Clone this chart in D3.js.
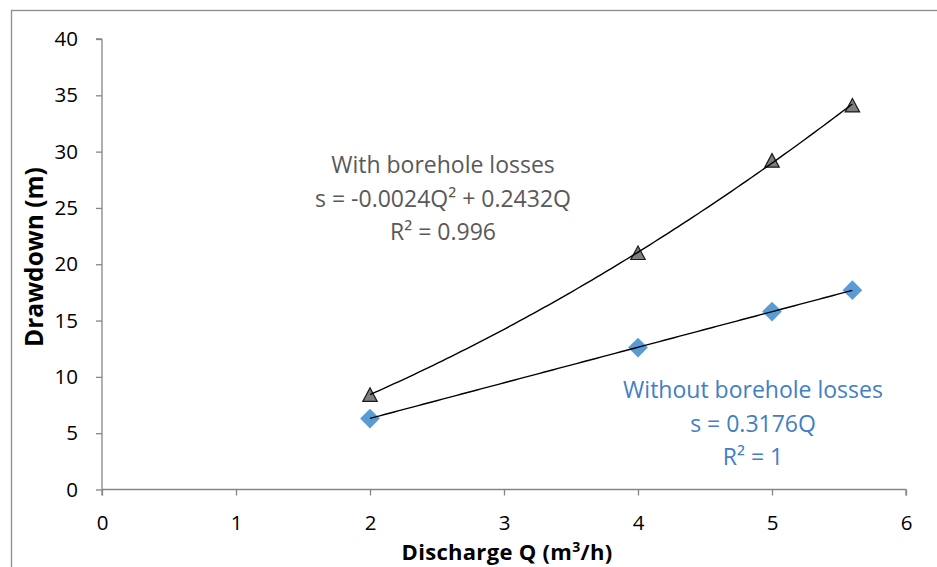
<!DOCTYPE html>
<html>
<head>
<meta charset="utf-8">
<script src="https://cdn.jsdelivr.net/npm/d3@7/dist/d3.min.js"></script>
<style>
  html, body { margin: 0; padding: 0; background: #fff; }
  svg { display: block; font-family: "Open Sans", "Noto Sans", sans-serif; }
</style>
</head>
<body>
<svg id="chart" width="937" height="567"></svg>
<script>
// Pumping test: discharge vs drawdown
const discharge = [2, 4, 5, 5.6];
const withLosses = [8.4, 21.0, 29.2, 34.1];
const withoutLosses = [6.3, 12.6, 15.8, 17.7];
const xTicks = [0, 1, 2, 3, 4, 5, 6];
const yTicks = [0, 5, 10, 15, 20, 25, 30, 35, 40];
const withLabel = ["With borehole losses", "s = -0.0024Q² + 0.2432Q", "R² = 0.996"];
const withoutLabel = ["Without borehole losses", "s = 0.3176Q", "R² = 1"];

const svg = d3.select("#chart");
const margin = { left: 102, right: 31, top: 39, bottom: 77 };
const W = 937, H = 567;

const x = d3.scaleLinear().domain([0, 6]).range([margin.left, W - margin.right]);
const y = d3.scaleLinear().domain([0, 40]).range([H - margin.bottom - 0.5, margin.top]);

// chart frame
svg.append("rect")
  .attr("x", 11.5).attr("y", 10.5)
  .attr("width", 960).attr("height", 600)
  .attr("fill", "none").attr("stroke", "#8c8c8c").attr("stroke-width", 1.3);

const axisColor = "#868686";

// x axis
const gx = svg.append("g")
  .attr("transform", `translate(0,${y(0)})`)
  .call(d3.axisBottom(x).tickValues(xTicks).tickFormat(d3.format("d")).tickSize(6).tickPadding(20));
// y axis
const gy = svg.append("g")
  .attr("transform", `translate(${x(0)},0)`)
  .call(d3.axisLeft(y).tickValues(yTicks).tickFormat(d3.format("d")).tickSize(6).tickPadding(18));
[gx, gy].forEach(g => {
  g.select(".domain").attr("stroke", axisColor).attr("stroke-width", 1.3);
  g.selectAll(".tick line").attr("stroke", axisColor).attr("stroke-width", 1.3);
  g.selectAll(".tick text").attr("fill", "#000").style("font-size", "20.5px")
    .style("font-family", "'Open Sans', sans-serif");
});
gy.select(".domain").attr("d", `M0,${y(0)}V${y(40)}M-6,${y(40)}H0`);
gx.select(".domain").attr("d", `M${x(0)},0H${x(6)}M${x(0)},6V0M${x(6)},6V0`);

// axis titles
svg.append("text")
  .attr("transform", `translate(43,257) rotate(-90)`)
  .attr("text-anchor", "middle")
  .style("font-size", "24.5px").style("font-weight", "bold")
  .text("Drawdown (m)");

const xt = svg.append("text")
  .attr("x", 507).attr("y", 560)
  .attr("text-anchor", "middle")
  .style("font-size", "22px").style("font-weight", "bold")
  .style("letter-spacing", "0.3px");
xt.append("tspan").text("Discharge Q (m");
xt.append("tspan").attr("dy", -8).style("font-size", "14px").text("3");
xt.append("tspan").attr("dy", 8).text("/h)");

// least-squares fits through the origin
function fitQuadNoIntercept(xs, ys) {
  // s = a Q^2 + b Q
  let s4 = 0, s3 = 0, s2 = 0, sy2 = 0, sy1 = 0;
  xs.forEach((q, i) => {
    s4 += q ** 4; s3 += q ** 3; s2 += q ** 2;
    sy2 += ys[i] * q * q; sy1 += ys[i] * q;
  });
  const det = s4 * s2 - s3 * s3;
  const a = (sy2 * s2 - s3 * sy1) / det;
  const b = (s4 * sy1 - s3 * sy2) / det;
  return q => a * q * q + b * q;
}
function fitLinNoIntercept(xs, ys) {
  let sxy = 0, sxx = 0;
  xs.forEach((q, i) => { sxy += q * ys[i]; sxx += q * q; });
  const b = sxy / sxx;
  return q => b * q;
}

const quad = fitQuadNoIntercept(discharge, withLosses);
const lin = fitLinNoIntercept(discharge, withoutLosses);
const qs = d3.range(0, 101).map(i => 2 + (5.6 - 2) * i / 100);

const line = d3.line().x(d => x(d[0])).y(d => y(d[1]));

// diamond markers (without losses)
svg.append("g").selectAll("path")
  .data(discharge.map((q, i) => [q, withoutLosses[i]]))
  .join("path")
  .attr("d", d3.symbol(d3.symbolSquare, 195)())
  .attr("transform", d => `translate(${x(d[0])},${y(d[1])}) rotate(45)`)
  .attr("fill", "#5b9bd5");

// triangle markers (with losses)
svg.append("g").selectAll("path")
  .data(discharge.map((q, i) => [q, withLosses[i]]))
  .join("path")
  .attr("d", "M0,-7L7.2,6.5L-7.2,6.5Z")
  .attr("transform", d => `translate(${x(d[0])},${y(d[1])})`)
  .attr("fill", "#7f7f7f").attr("stroke", "#1a1a1a").attr("stroke-width", 1.2);

// trendlines
svg.append("path")
  .attr("d", line(qs.map(q => [q, quad(q)])))
  .attr("fill", "none").attr("stroke", "#000").attr("stroke-width", 1.4);
svg.append("path")
  .attr("d", line(qs.map(q => [q, lin(q)])))
  .attr("fill", "none").attr("stroke", "#000").attr("stroke-width", 1.4);

// trendline annotations
function annotate(lines, cx, y0, color) {
  const t = svg.append("text").attr("text-anchor", "middle")
    .attr("fill", color).style("font-size", "23px");
  lines.forEach((s, i) => {
    t.append("tspan").attr("x", cx).attr("y", y0 + i * 33.5).text(s);
  });
}
annotate(withLabel, 443, 173, "#595959");
annotate(withoutLabel, 753, 398, "#3f80c4");
</script>
</body>
</html>
